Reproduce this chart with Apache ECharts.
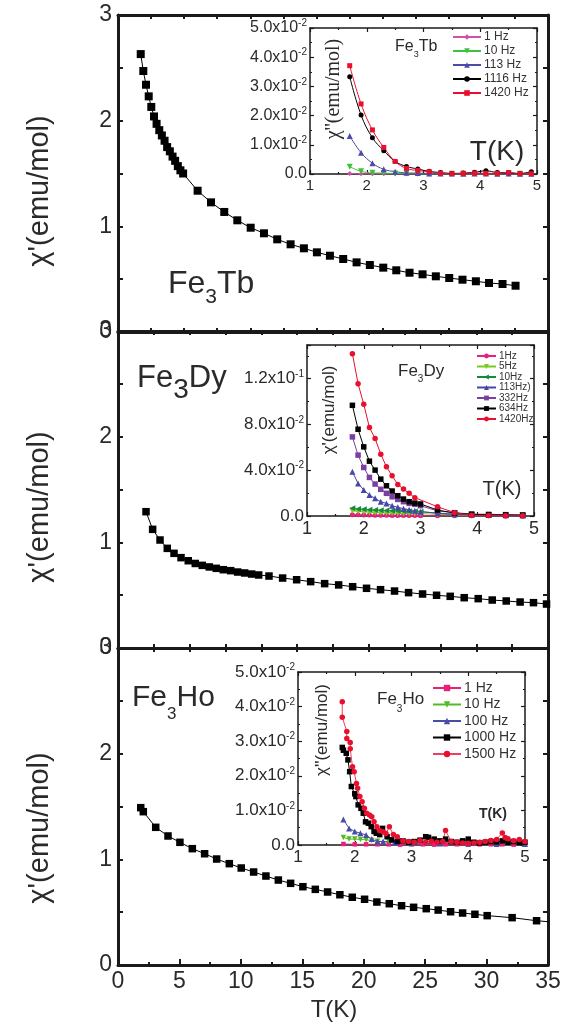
<!DOCTYPE html>
<html><head><meta charset="utf-8">
<script src="https://cdn.jsdelivr.net/npm/echarts/dist/echarts.min.js"></script>
<style>html,body{margin:0;padding:0;background:#fff}#c{width:570px;height:1028px}</style>
</head><body><div id="c"></div><script>
// ---------------- main panels (chi' vs T) ----------------
const tbT = [1.85,2.06,2.28,2.50,2.71,2.93,3.14,3.36,3.57,3.79,4.00,4.22,4.44,4.65,4.87,5.08,5.30,6.48,7.57,8.65,9.71,10.8,11.88,12.96,14.05,15.13,16.19,17.25,18.33,19.42,20.5,21.59,22.65,23.73,24.79,25.87,26.96,28.04,29.13,30.2,31.3,32.36];
const tbChi = [2.63,2.47,2.34,2.23,2.13,2.04,1.97,1.91,1.86,1.81,1.75,1.71,1.66,1.62,1.57,1.53,1.50,1.337,1.227,1.136,1.057,0.987,0.934,0.877,0.830,0.792,0.754,0.722,0.691,0.659,0.634,0.609,0.584,0.561,0.546,0.527,0.511,0.495,0.480,0.464,0.454,0.438];
const dyT = [2.28,2.82,3.42,4.01,4.56,5.13,5.72,6.29,6.86,7.43,8.0,8.57,9.17,9.74,10.31,10.88,11.45,12.29,13.4,14.54,15.68,16.82,17.96,19.1,20.23,21.37,22.51,23.65,24.79,25.93,27.04,28.18,29.32,30.46,31.6,32.73,33.82,34.88];
const dyChi = [1.29,1.123,1.022,0.943,0.896,0.855,0.826,0.80,0.782,0.767,0.754,0.741,0.732,0.719,0.71,0.70,0.691,0.681,0.662,0.646,0.628,0.609,0.597,0.58,0.565,0.552,0.539,0.524,0.511,0.499,0.489,0.476,0.467,0.454,0.445,0.435,0.429,0.416];
const hoT = [1.85,2.06,3.07,4.07,5.04,6.05,7.05,8.03,9.06,10.03,11.04,12.04,13.05,14.05,15.05,16.06,17.06,18.06,19.07,20.07,21.07,22.08,23.08,24.06,25.09,26.06,27.07,28.05,29.05,30.05,32.08,34.07,36.0];
const hoChi = [1.489,1.451,1.303,1.221,1.161,1.101,1.053,1.003,0.959,0.918,0.88,0.842,0.804,0.773,0.741,0.716,0.691,0.665,0.641,0.622,0.596,0.580,0.561,0.546,0.533,0.520,0.504,0.492,0.480,0.467,0.448,0.419,0.400];

// ---------------- inset Fe3Tb (chi'' vs T) ----------------
const tbInT = [1.7,1.9,2.1,2.3,2.5,2.7,2.9,3.1,3.3,3.5,3.7,3.9,4.1,4.3,4.5,4.7,4.9];
const tb1Hz    = [0.0002,0.0001,0.0001,0.0001,0.0001,0.0001,0.0001,0.0001,0.0001,0.0001,0.0001,0.0001,0.0001,0.0001,0.0001,0.0001,0.0001];
const tb10Hz   = [0.0025,0.0009,0.0004,0.0003,0.0002,0.0002,0.0001,0.0001,0.0001,0.0001,0.0001,0.0001,0.0001,0.0001,0.0001,0.0001,0.0001];
const tb113Hz  = [0.0130,0.0073,0.0037,0.0016,0.0008,0.0004,0.0003,0.0002,0.0002,0.0002,0.0001,0.0002,0.0002,0.0001,0.0002,0.0001,0.0001];
const tb1116Hz = [0.0333,0.0202,0.0124,0.0080,0.0043,0.0026,0.0017,0.0009,0.0005,0.0002,0.0003,0.0006,0.0011,0.0005,0.0004,0.0002,0.0008];
const tb1420Hz = [0.0371,0.0240,0.0151,0.0091,0.0043,0.0019,0.0012,0.0008,0.0003,0.0001,0.0002,0.0003,0.0002,0.0002,0.0005,0.0001,0.0001];

// ---------------- inset Fe3Dy ----------------
const dyInT = [1.8,1.9,2.0,2.1,2.2,2.3,2.4,2.5,2.6,2.7,2.8,2.9,3.0,3.3,3.6,3.9,4.2,4.5,4.8];
const dy1Hz    = [0.0012,0.0010,0.0009,0.0008,0.0007,0.0006,0.0006,0.0005,0.0005,0.0004,0.0004,0.0004,0.0003,0.0003,0.0002,0.0002,0.0002,0.0001,0.0001];
const dy5Hz    = [0.0045,0.0040,0.0036,0.0033,0.0031,0.0029,0.0027,0.0026,0.0025,0.0024,0.0023,0.0022,0.0021,0.0015,0.0010,0.0007,0.0005,0.0004,0.0004];
const dy10Hz   = [0.0067,0.0062,0.0058,0.0055,0.0052,0.0050,0.0048,0.0046,0.0044,0.0042,0.0041,0.0039,0.0038,0.0025,0.0015,0.0010,0.0008,0.0006,0.0005];
const dy113Hz  = [0.0386,0.0285,0.0227,0.0183,0.0154,0.0125,0.0110,0.0090,0.0076,0.0064,0.0055,0.0046,0.0038,0.0024,0.0015,0.0010,0.0008,0.0006,0.0005];
const dy332Hz  = [0.0691,0.0532,0.0424,0.0337,0.0279,0.0233,0.0198,0.0168,0.0145,0.0125,0.0110,0.0102,0.0090,0.0044,0.0029,0.0017,0.0015,0.0012,0.0008];
const dy634Hz  = [0.0967,0.0758,0.0604,0.0479,0.0401,0.0322,0.0264,0.0218,0.0177,0.0148,0.0125,0.0113,0.0105,0.0052,0.0026,0.0015,0.0010,0.0009,0.0008];
const dy1420Hz = [0.1418,0.1156,0.0976,0.0773,0.0677,0.0540,0.0430,0.0351,0.0276,0.0235,0.0198,0.0160,null,0.0081,0.0029,0.0006,0.0004,0.0003,0.0002];

// ---------------- inset Fe3Ho ----------------
const ho1T    = [1.8,2.0,2.2,2.4,2.6,2.8,3.0,3.2,3.4,3.6,3.8,4.0,4.2,4.4,4.6,4.8,5.0];
const ho1Hz   = [0.0003,0.0002,0.0002,0.0002,0.0002,0.0001,0.0002,0.0002,0.0001,0.0002,0.0002,0.0001,0.0002,0.0002,0.0002,0.0001,0.0002];
const ho10T   = [1.8,1.9,2.0,2.1,2.2,2.3,2.4,2.6,3.0,3.5,4.0,4.5,5.0];
const ho10Hz  = [0.0022,0.0017,0.0017,0.0016,0.0015,0.0013,0.0011,0.0010,0.0009,0.0008,0.0008,0.0006,0.0005];
const ho100T  = [1.8,1.9,2.0,2.1,2.2,2.3,2.4,2.5,2.7,3.0,3.5,4.0,4.5,5.0];
const ho100Hz = [0.0074,0.0048,0.0039,0.0034,0.0029,0.0017,0.0010,0.0010,0.0006,0.0005,0.0004,0.0004,0.0003,0.0003];
const ho1000T = [1.78,1.80,1.85,1.88,1.91,1.94,2.00,2.02,2.06,2.11,2.15,2.19,2.24,2.29,2.34,2.38,2.44,2.49,2.57,2.65,2.75,2.85,2.95,3.05,3.15,3.25,3.30,3.40,3.50,3.60,3.70,3.80,3.90,4.00,4.10,4.20,4.30,4.40,4.50,4.60,4.70,4.80,4.90,5.00];
const ho1000Hz= [0.0282,0.0274,0.0265,0.0246,0.0212,0.0169,0.0148,0.0140,0.0116,0.0106,0.0092,0.0067,0.0063,0.0053,0.0039,0.0034,0.0030,0.0048,0.0024,0.0015,0.0010,0.0012,0.0008,0.0010,0.0014,0.0024,0.0022,0.0017,0.0012,0.0017,0.0010,0.0008,0.0012,0.0017,0.0008,0.0006,0.0008,0.0010,0.0009,0.0012,0.0008,0.0010,0.0007,0.0008];
const ho1500T = [1.78,1.78,1.86,1.86,1.92,1.92,1.96,1.99,2.03,2.05,2.09,2.13,2.17,2.21,2.26,2.30,2.34,2.39,2.44,2.50,2.55,2.61,2.68,2.75,2.85,2.95,3.05,3.15,3.25,3.35,3.45,3.55,3.60,3.70,3.80,3.90,4.00,4.10,4.20,4.30,4.40,4.50,4.60,4.65,4.70,4.80,4.90,5.00];
const ho1500Hz= [0.0414,0.0369,0.0328,0.0308,0.0296,0.0278,0.0226,0.0212,0.0178,0.0164,0.0140,0.0125,0.0106,0.0092,0.0087,0.0082,0.0067,0.0053,0.0041,0.0038,0.0033,0.0053,0.0030,0.0024,0.0012,0.0010,0.0008,0.0012,0.0009,0.0011,0.0008,0.0010,0.0042,0.0010,0.0008,0.0006,0.0005,0.0006,0.0008,0.0010,0.0013,0.0016,0.0035,0.0022,0.0018,0.0012,0.0016,0.0010];

// ---------------- tick labels ----------------
const mainXLabels = ['0','5','10','15','20','25','30','35'];
const mainYLabels = ['0','1','2','3'];
const insetXLabels = ['1','2','3','4','5'];
const tbInYLabels = ['0.0','1.0x10^-2','2.0x10^-2','3.0x10^-2','4.0x10^-2','5.0x10^-2'];
const dyInYLabels = ['0.0','4.0x10^-2','8.0x10^-2','1.2x10^-1'];
const hoInYLabels = ['0.0','1.0x10^-2','2.0x10^-2','3.0x10^-2','4.0x10^-2','5.0x10^-2'];

// ================= build =================
const FONT = "'Liberation Sans', Arial, sans-serif";
const SERIF = "'Liberation Serif', 'Times New Roman', serif";
const INK = '#1a1a1a';
const TXT = '#2a2a2a';
const zip = (a, b) => a.map((v, i) => [v, b[i]]);
const sup = s => { if (s.indexOf('^') < 0) return '{m|' + s + '}'; const p = s.split('^'); return '{m|' + p[0] + '}{e|' + p[1] + '}'; };

const grids = [
  {left:118, top:15,  width:430, height:317},
  {left:118, top:331, width:430, height:317},
  {left:118, top:648, width:430, height:317},
  {left:310, top:28,  width:227, height:146},
  {left:307, top:345, width:227, height:171},
  {left:298, top:672, width:227, height:173}
].map(g => Object.assign(g, {show:true, backgroundColor:'#fff', borderWidth:0, containLabel:false, outerBoundsMode:'none'}));

const xAxes = [], yAxes = [], series = [];
function axis(o) {
  return {
    type:'value', gridIndex:o.grid, position:o.pos, min:o.min, max:o.max, interval:o.interval,
    splitLine:{show:false}, minorSplitLine:{show:false},
    axisLine:{show:true, onZero:false, lineStyle:{color:INK, width:o.lw}},
    axisTick:{show:true, inside:true, length:o.tl, lineStyle:{color:INK, width:o.tw}},
    minorTick:{show:!!o.minor, splitNumber:o.minor || 2, length:o.ml || 2, lineStyle:{color:INK, width:o.tw}},
    axisLabel:o.label ? o.label : {show:false}
  };
}
function addX(o){ xAxes.push(axis(o)); return xAxes.length - 1; }
function addY(o){ yAxes.push(axis(o)); return yAxes.length - 1; }

// main panels
const mainXInt = [[35/13, 35/13], [35/12, 35/12], [5, 35/12]]; // [bottom, top]
const mainSets = [[tbT, tbChi, 8], [dyT, dyChi, 7.5], [hoT, hoChi, 7.5]];
for (let p = 0; p < 3; p++) {
  const last = p === 2;
  const xb = addX({grid:p, pos:'bottom', min:0, max:35, interval:mainXInt[p][0], lw:3, tl:last?6:4, tw:2, minor:last?2:0, ml:3,
    label: last ? {show:true, margin:5, fontSize:23, color:TXT, fontFamily:FONT,
      formatter: v => { const i = Math.round(v/5); return Math.abs(v - i*5) < 1e-6 ? mainXLabels[i] : ''; }} : null});
  addX({grid:p, pos:'top', min:0, max:35, interval:mainXInt[p][1], lw:3, tl:4, tw:2});
  const yl = addY({grid:p, pos:'left', min:0, max:3, interval:1, lw:3, tl:5, tw:2, minor:2, ml:5,
    label:{show:true, margin:6, fontSize:23, color:TXT, fontFamily:FONT, formatter: v => mainYLabels[Math.round(v)]}});
  addY({grid:p, pos:'right', min:0, max:3, interval:1, lw:3, tl:5, tw:2, minor:2, ml:5});
  series.push({type:'line', name:'main' + p, xAxisIndex:xb, yAxisIndex:yl, data:zip(mainSets[p][0], mainSets[p][1]),
    symbol:'rect', symbolSize:mainSets[p][2], itemStyle:{color:'#000'}, lineStyle:{color:'#000', width:1}, silent:true, animation:false, z:3});
}

// insets
const insetCfg = [
  {grid:3, ymax:0.05, yint:0.01, labels:tbInYLabels, fs:16, xfs:15},
  {grid:4, ymax:0.1494, yint:0.04, labels:dyInYLabels, fs:17, xfs:18},
  {grid:5, ymax:0.05, yint:0.01, labels:hoInYLabels, fs:17, xfs:17}
];
const insetAx = insetCfg.map(c => {
  const xb = addX({grid:c.grid, pos:'bottom', min:1, max:5, interval:1, lw:1.5, tl:4, tw:1.2, minor:2, ml:2,
    label:{show:true, margin:4, fontSize:c.xfs, color:TXT, fontFamily:FONT, formatter: v => insetXLabels[Math.round(v) - 1]}});
  addX({grid:c.grid, pos:'top', min:1, max:5, interval:1, lw:1.5, tl:4, tw:1.2, minor:2, ml:2});
  const yl = addY({grid:c.grid, pos:'left', min:0, max:c.ymax, interval:c.yint, lw:1.5, tl:4, tw:1.2, minor:2, ml:2,
    label:{show:true, margin:3, color:TXT, fontFamily:FONT,
      formatter: v => { const i = Math.round(v / c.yint); return (Math.abs(v - i*c.yint) < 1e-7 && i < c.labels.length) ? sup(c.labels[i]) : ''; },
      rich:{m:{fontSize:c.fs, fontFamily:FONT, color:TXT, lineHeight:19}, e:{fontSize:10, fontFamily:FONT, color:TXT, verticalAlign:'top', lineHeight:9}}}});
  addY({grid:c.grid, pos:'right', min:0, max:c.ymax, interval:c.yint, lw:1.5, tl:4, tw:1.2, minor:2, ml:2});
  return [xb, yl];
});

function inset(k, name, xs, ys, color, symbol, size, rot, lineColor, smooth) {
  series.push({type:'line', name:name, xAxisIndex:insetAx[k][0], yAxisIndex:insetAx[k][1], data:zip(xs, ys),
    symbol:symbol, symbolSize:size, symbolRotate:rot || 0, smooth:smooth || false, connectNulls:true,
    itemStyle:{color:color}, lineStyle:{color:lineColor || color, width:1}, animation:false, z:3});
}
inset(0, 'tb|1 Hz',    tbInT, tb1Hz,    '#d04fa8', 'diamond', 5, 0, null, 0.4);
inset(0, 'tb|10 Hz',   tbInT, tb10Hz,   '#3cc23c', 'triangle', 6, 180, null, 0.4);
inset(0, 'tb|113 Hz',  tbInT, tb113Hz,  '#4b4ba8', 'triangle', 6, 0, null, 0.4);
inset(0, 'tb|1116 Hz', tbInT, tb1116Hz, '#000000', 'circle', 5, 0, null, 0.4);
inset(0, 'tb|1420 Hz', tbInT, tb1420Hz, '#e8102e', 'rect', 5, 0, null, 0.4);

inset(1, 'dy|1Hz',    dyInT, dy1Hz,    '#e8207a', 'circle', 5);
inset(1, 'dy|5Hz',    dyInT, dy5Hz,    '#77cc22', 'triangle', 6, 180);
inset(1, 'dy|10Hz',   dyInT, dy10Hz,   '#138a3c', 'triangle', 6, 90);
inset(1, 'dy|113Hz)', dyInT, dy113Hz,  '#4545aa', 'triangle', 6);
inset(1, 'dy|332Hz',  dyInT, dy332Hz,  '#7b3fa3', 'rect', 5.5);
inset(1, 'dy|634Hz',  dyInT, dy634Hz,  '#000000', 'rect', 5.5);
inset(1, 'dy|1420Hz', dyInT, dy1420Hz, '#e8102e', 'circle', 5.5);

inset(2, 'ho|1 Hz',    ho1T,    ho1Hz,    '#e8207a', 'rect', 4.5);
inset(2, 'ho|10 Hz',   ho10T,   ho10Hz,   '#55bb22', 'triangle', 5.5, 180);
inset(2, 'ho|100 Hz',  ho100T,  ho100Hz,  '#4b4ba8', 'triangle', 6);
inset(2, 'ho|1000 Hz', ho1000T, ho1000Hz, '#000000', 'rect', 5.5);
inset(2, 'ho|1500 Hz', ho1500T, ho1500Hz, '#e8102e', 'circle', 5.5, 0, '#ee4060');

const legFmt = n => n.split('|')[1];
function legend(prefix, left, top, iw, ih, gap, fs) {
  return {show:true, orient:'vertical', left:left, top:top, itemWidth:iw, itemHeight:ih, itemGap:gap, padding:0,
    selectedMode:false, formatter:legFmt, textStyle:{fontSize:fs, color:'#333', fontFamily:FONT, padding:[0,0,0,-2]},
    data:series.filter(s => s.name.indexOf(prefix + '|') === 0).map(s => s.name)};
}
const legends = [
  legend('tb', 452, 31, 28, 7, 2, 12),
  legend('dy', 476, 351, 19, 6, 0.5, 10),
  legend('ho', 432, 681, 28, 8, 2.5, 14)
];

// text labels
const g = [];
function rot(x, y, text, fs, fam) {
  g.push({type:'text', x:x, y:y, rotation:Math.PI/2, silent:true,
    style:{text:text, fontSize:fs, fontFamily:fam || FONT, fill:TXT, align:'center', verticalAlign:'middle'}});
}
function plain(x, y, text, fs, weight) {
  g.push({type:'text', x:x, y:y, silent:true,
    style:{text:text, fontSize:fs, fontWeight:weight || 'normal', fontFamily:FONT, fill:TXT, align:'center', verticalAlign:'middle'}});
}
function chem(x, y, text, fa, fb, pad) {
  g.push({type:'text', x:x, y:y, silent:true,
    style:{text:text, align:'left', verticalAlign:'top', fill:TXT,
      rich:{a:{fontSize:fa, fontFamily:FONT, fill:TXT, color:TXT, lineHeight:fa, verticalAlign:'top'},
            b:{fontSize:fb, fontFamily:FONT, fill:TXT, color:TXT, lineHeight:fb, verticalAlign:'top', padding:[pad,0,0,0]}}}});
}
rot(40, 191, "χ'(emu/mol)", 29);
rot(40, 507, "χ'(emu/mol)", 29);
rot(40, 828, "χ'(emu/mol)", 29);
plain(334, 1010, 'T(K)', 24);
chem(168, 268, '{a|Fe}{b|3}{a|Tb}', 32, 21, 19);
chem(137, 363, '{a|Fe}{b|3}{a|Dy}', 31, 28, 13);
chem(132, 683, '{a|Fe}{b|3}{a|Ho}', 30, 17, 23);
// inset texts
rot(334, 89, "χ''(emu/mol)", 20, SERIF);
rot(329, 410, "χ'(emu/mol)", 17);
rot(322, 730, "χ''(emu/mol)", 17);
plain(497, 152, 'T(K)', 28);
plain(502, 489, 'T(K)', 20);
plain(493, 814, 'T(K)', 14, 'bold');
chem(395, 39, '{a|Fe}{b|3}{a|Tb}', 16, 9, 11);
chem(398, 363, '{a|Fe}{b|3}{a|Dy}', 17, 10, 11);
chem(377, 691, '{a|Fe}{b|3}{a|Ho}', 17, 10, 13);

const chart = echarts.init(document.getElementById('c'), null, {renderer:'canvas'});
chart.setOption({
  backgroundColor:'#fff', animation:false,
  grid:grids, xAxis:xAxes, yAxis:yAxes, series:series, legend:legends, graphic:g,
  tooltip:{show:false}
});
</script></body></html>
